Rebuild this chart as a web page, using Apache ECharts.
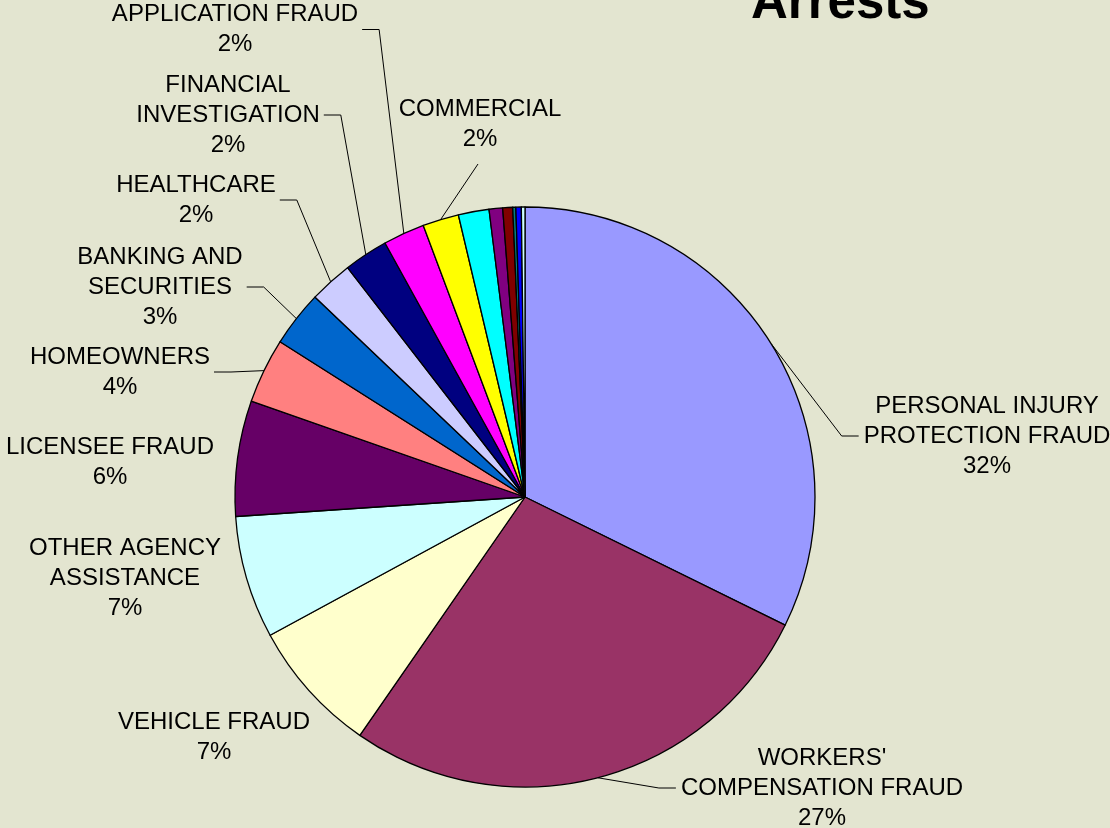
<!DOCTYPE html>
<html>
<head>
<meta charset="utf-8">
<script src="https://cdn.jsdelivr.net/npm/echarts@6/dist/echarts.min.js"></script>
<style>
html,body{margin:0;padding:0;background:#E3E5D0;}
#c{width:1110px;height:828px;}
</style>
</head>
<body>
<div id="c"></div>
<script>
// ---- data ----
const categories = [
  "PERSONAL INJURY\nPROTECTION FRAUD",
  "WORKERS'\nCOMPENSATION FRAUD",
  "VEHICLE FRAUD",
  "OTHER AGENCY\nASSISTANCE",
  "LICENSEE FRAUD",
  "HOMEOWNERS",
  "BANKING AND\nSECURITIES",
  "HEALTHCARE",
  "FINANCIAL\nINVESTIGATION",
  "APPLICATION FRAUD",
  "COMMERCIAL",
  "UNLABELED A",
  "UNLABELED B",
  "UNLABELED C",
  "UNLABELED D",
  "UNLABELED E",
  "UNLABELED F"
];
const values = [32.1, 27.2, 7.4, 6.8, 6.4, 3.6, 3.1, 2.4, 2.45, 2.3, 2.0, 1.7, 0.75, 0.55, 0.17, 0.3, 0.2];
const showLabel = [true, true, true, true, true, true, true, true, true, true, true, false, false, false, false, false, false];

// ---- styles / layout ----
const colors = ["#9999FF", "#993366", "#FFFFCC", "#CCFFFF", "#660066", "#FF8080", "#0066CC", "#CCCCFF",
  "#000080", "#FF00FF", "#FFFF00", "#00FFFF", "#800080", "#800000", "#008080", "#0000FF", "#CCFFFF"];
const labelPlacement = [
  {x: 987, y: 436, side: 'right'},
  {x: 822, y: 788, side: 'right'},
  {x: 214, y: 737, side: 'none'},
  {x: 125, y: 578, side: 'none'},
  {x: 110, y: 462, side: 'none'},
  {x: 120, y: 372, side: 'left'},
  {x: 160, y: 287, side: 'left'},
  {x: 196, y: 200, side: 'left'},
  {x: 228, y: 115, side: 'left'},
  {x: 235, y: 29.5, side: 'left'},
  {x: 480, y: 124, side: 'bottom'}
];
const FONT = "'Liberation Sans', Arial, sans-serif";

const total = values.reduce((a, b) => a + b, 0);
const seriesData = categories.map((name, i) => ({
  name: name,
  value: values[i],
  itemStyle: {color: colors[i]},
  label: {show: showLabel[i]},
  labelLine: {show: showLabel[i] && labelPlacement[i] && labelPlacement[i].side !== 'none'}
}));

const chart = echarts.init(document.getElementById('c'), null, {renderer: 'canvas'});
chart.setOption({
  backgroundColor: '#E3E5D0',
  animation: false,
  title: {
    text: 'Arrests',
    left: 746,
    top: -27,
    textStyle: {fontSize: 51, fontWeight: 'bold', fontFamily: FONT, color: '#000'}
  },
  series: [{
    type: 'pie',
    center: [525, 497],
    radius: 290,
    startAngle: 90,
    clockwise: true,
    avoidLabelOverlap: false,
    emphasis: {disabled: true},
    itemStyle: {borderColor: '#000', borderWidth: 1.3},
    label: {
      show: true,
      position: 'outside',
      color: '#000',
      fontFamily: FONT,
      fontSize: 24,
      lineHeight: 30,
      formatter: function (p) {
        return p.name + '\n' + Math.round(p.value / total * 100) + '%';
      }
    },
    labelLine: {show: true, lineStyle: {color: '#000', width: 1}, smooth: false},
    labelLayout: function (p) {
      const pl = labelPlacement[p.dataIndex];
      if (!pl) return;
      const w = p.labelRect.width, h = p.labelRect.height;
      const cx = pl.x, cy = pl.y;
      const out = {x: cx, y: cy, align: 'center', verticalAlign: 'middle'};
      const start = p.labelLinePoints ? p.labelLinePoints[0] : null;
      if (start) {
        let pts = null;
        if (pl.side === 'left') {
          const e = [cx + w / 2 + 4, cy];
          pts = [start, [e[0] + 17, cy], e];
        } else if (pl.side === 'right') {
          const e = [cx - w / 2 - 5, cy];
          pts = [start, [e[0] - 17, cy], e];
        } else if (pl.side === 'bottom') {
          const e = [cx - 2, cy + h / 2 + 10];
          pts = [start, start, e];
        }
        if (pts) out.labelLinePoints = pts;
      }
      return out;
    },
    data: seriesData
  }]
});
</script>
</body>
</html>
